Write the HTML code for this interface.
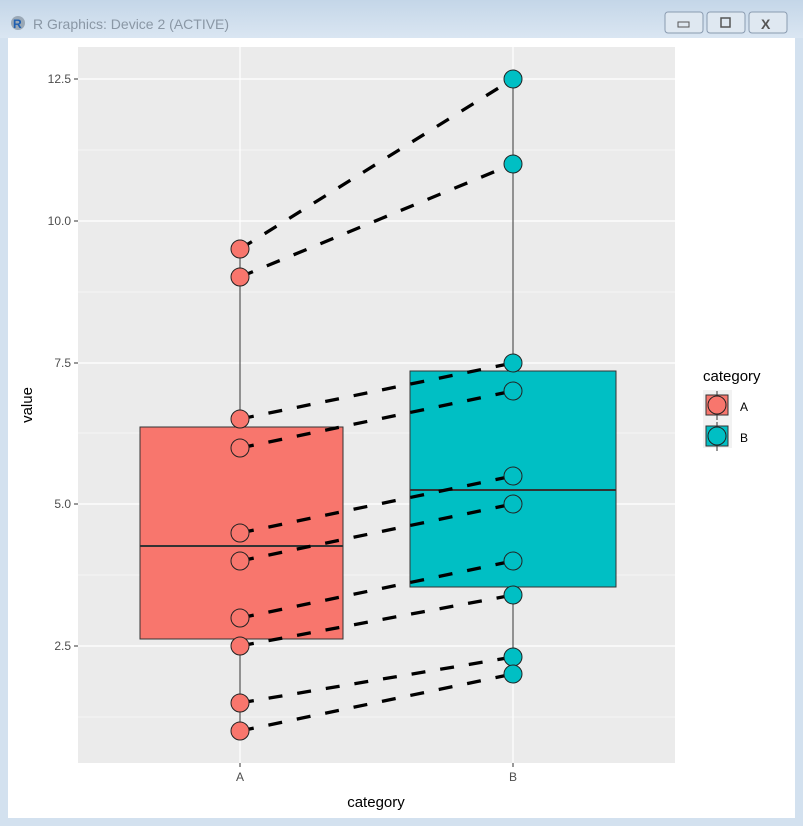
<!DOCTYPE html>
<html><head><meta charset="utf-8"><style>
html,body{margin:0;padding:0;width:803px;height:826px;overflow:hidden;background:#d6e3f0;}
svg{display:block;font-family:"Liberation Sans",Arial,sans-serif;}
</style></head><body>
<svg width="803" height="826" viewBox="0 0 803 826">
<defs><linearGradient id="tb" x1="0" y1="0" x2="0" y2="1"><stop offset="0" stop-color="#c4d6e8"/><stop offset="1" stop-color="#dae6f2"/></linearGradient></defs>
<rect x="0" y="0" width="803" height="826" fill="#d3e1ef"/>
<rect x="0" y="0" width="803" height="38" fill="url(#tb)"/>
<circle cx="18" cy="23" r="7" fill="#9aa8b6"/><text x="13" y="28" font-size="12" font-weight="bold" fill="#1f5fb0">R</text>
<text x="33" y="29" font-size="14" fill="#8a97a5">R Graphics: Device 2 (ACTIVE)</text>
<rect x="665" y="12" width="38" height="21" rx="3" fill="#dfe8f1" stroke="#8a9bb0"/>
<rect x="707" y="12" width="38" height="21" rx="3" fill="#dfe8f1" stroke="#8a9bb0"/>
<rect x="749" y="12" width="38" height="21" rx="3" fill="#dfe8f1" stroke="#8a9bb0"/>
<rect x="678" y="22" width="11" height="5" fill="none" stroke="#555"/>
<rect x="721" y="18" width="9" height="9" fill="none" stroke="#555" stroke-width="1.5"/>
<text x="761" y="29" font-size="14" fill="#555" font-weight="bold">X</text>
<rect x="8" y="38" width="787" height="780" fill="#fff"/>
<rect x="78" y="47" width="597" height="716" fill="#ebebeb"/>
<g stroke="#fff" stroke-width="0.6">
<line x1="78" x2="675" y1="150" y2="150"/><line x1="78" x2="675" y1="292" y2="292"/><line x1="78" x2="675" y1="433" y2="433"/><line x1="78" x2="675" y1="575" y2="575"/><line x1="78" x2="675" y1="717" y2="717"/>
</g>
<g stroke="#fff" stroke-width="1.2">
<line x1="78" x2="675" y1="79" y2="79"/><line x1="78" x2="675" y1="221" y2="221"/><line x1="78" x2="675" y1="363" y2="363"/><line x1="78" x2="675" y1="504" y2="504"/><line x1="78" x2="675" y1="646" y2="646"/>
<line x1="240" x2="240" y1="47" y2="763"/><line x1="513" x2="513" y1="47" y2="763"/>
</g>
<g stroke="#333" stroke-width="1">
<line x1="240" x2="240" y1="249" y2="731"/>
<line x1="513" x2="513" y1="79" y2="674"/>
</g>
<rect x="140" y="427" width="203" height="212" fill="#f8766d" stroke="#333" stroke-width="1"/>
<line x1="140" x2="343" y1="546" y2="546" stroke="#333" stroke-width="2"/>
<rect x="410" y="371" width="206" height="216" fill="#00bfc4" stroke="#333" stroke-width="1"/>
<line x1="410" x2="616" y1="490" y2="490" stroke="#333" stroke-width="2"/>
<g stroke="#000" stroke-width="3.3" stroke-dasharray="14,15" fill="none">
<line x1="240" y1="249" x2="513" y2="79"/>
<line x1="240" y1="277" x2="513" y2="164"/>
<line x1="240" y1="419" x2="513" y2="363"/>
<line x1="240" y1="448" x2="513" y2="391"/>
<line x1="240" y1="533" x2="513" y2="476"/>
<line x1="240" y1="561" x2="513" y2="504"/>
<line x1="240" y1="618" x2="513" y2="561"/>
<line x1="240" y1="646" x2="513" y2="595"/>
<line x1="240" y1="703" x2="513" y2="657"/>
<line x1="240" y1="731" x2="513" y2="674"/>
</g>
<g fill="#f8766d" stroke="#222" stroke-width="1">
<circle cx="240" cy="249" r="9"/><circle cx="240" cy="277" r="9"/><circle cx="240" cy="419" r="9"/><circle cx="240" cy="448" r="9"/><circle cx="240" cy="533" r="9"/><circle cx="240" cy="561" r="9"/><circle cx="240" cy="618" r="9"/><circle cx="240" cy="646" r="9"/><circle cx="240" cy="703" r="9"/><circle cx="240" cy="731" r="9"/>
</g>
<g fill="#00bfc4" stroke="#222" stroke-width="1">
<circle cx="513" cy="79" r="9"/><circle cx="513" cy="164" r="9"/><circle cx="513" cy="363" r="9"/><circle cx="513" cy="391" r="9"/><circle cx="513" cy="476" r="9"/><circle cx="513" cy="504" r="9"/><circle cx="513" cy="561" r="9"/><circle cx="513" cy="595" r="9"/><circle cx="513" cy="657" r="9"/><circle cx="513" cy="674" r="9"/>
</g>
<g stroke="#333" stroke-width="1">
<line x1="74" x2="78" y1="79" y2="79"/><line x1="74" x2="78" y1="221" y2="221"/><line x1="74" x2="78" y1="363" y2="363"/><line x1="74" x2="78" y1="504" y2="504"/><line x1="74" x2="78" y1="646" y2="646"/>
<line x1="240" x2="240" y1="763" y2="767"/><line x1="513" x2="513" y1="763" y2="767"/>
</g>
<g font-size="12" fill="#4d4d4d" text-anchor="end">
<text x="71" y="83">12.5</text><text x="71" y="225">10.0</text><text x="71" y="367">7.5</text><text x="71" y="508">5.0</text><text x="71" y="650">2.5</text>
</g>
<g font-size="12" fill="#4d4d4d" text-anchor="middle">
<text x="240" y="781">A</text><text x="513" y="781">B</text>
</g>
<text x="376" y="807" font-size="15" fill="#000" text-anchor="middle">category</text>
<text x="0" y="0" font-size="15" fill="#000" text-anchor="middle" transform="translate(32,405) rotate(-90)">value</text>
<text x="703" y="381" font-size="15" fill="#000">category</text>
<rect x="703" y="390" width="29" height="58" fill="#f2f2f2"/>
<rect x="706" y="395" width="22" height="20" fill="#f8766d" stroke="#333"/>
<line x1="717" x2="717" y1="391" y2="420" stroke="#333"/>
<circle cx="717" cy="405" r="9" fill="#f8766d" stroke="#222"/>
<rect x="706" y="426" width="22" height="20" fill="#00bfc4" stroke="#333"/>
<line x1="717" x2="717" y1="422" y2="451" stroke="#333"/>
<circle cx="717" cy="436" r="9" fill="#00bfc4" stroke="#222"/>
<text x="740" y="411" font-size="12" fill="#000">A</text>
<text x="740" y="442" font-size="12" fill="#000">B</text>
</svg>
</body></html>
